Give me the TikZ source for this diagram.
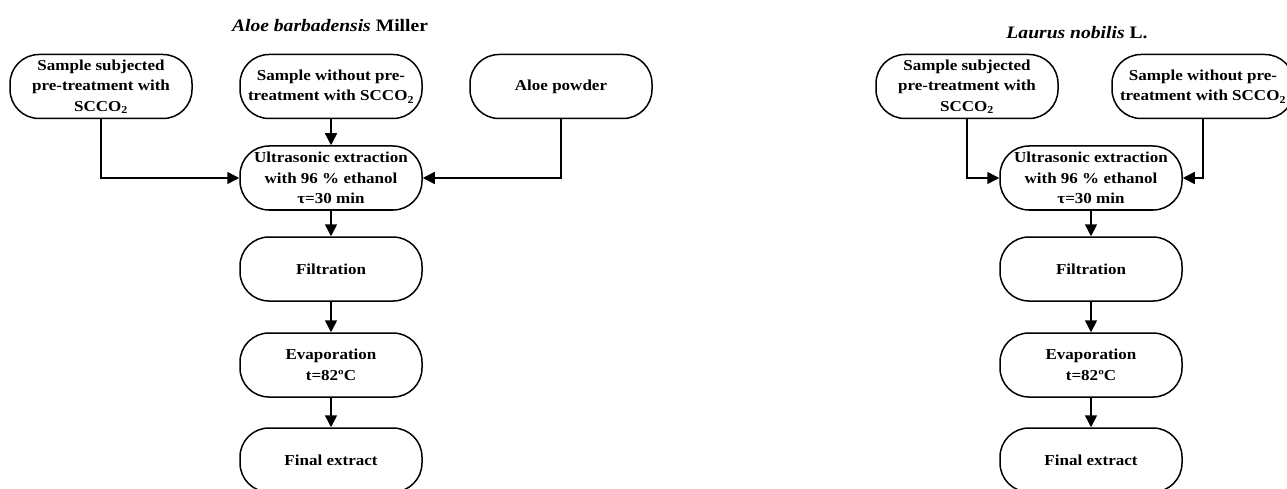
\documentclass[tikz,border=0pt]{standalone}
\usepackage{fontspec}
\setmainfont{Liberation Serif}[FakeStretch=1.12]
\usetikzlibrary{arrows.meta}
\tikzset{
  stepbox/.style={draw,line width=1.5pt,rounded corners=29pt,minimum width=182pt,
    minimum height=64pt,inner sep=0pt,align=center,
    font=\fontsize{15.2}{20.5}\selectfont\bfseries},
  flow/.style={line width=1.5pt,-{Triangle[length=12pt,width=12pt]}},
  title/.style={font=\fontsize{17.5}{20}\selectfont\bfseries}
}
\begin{document}
\begin{tikzpicture}[x=1pt,y=-1pt]
\clip (0,0) rectangle (1287,489);

% Aloe
\node[title] (tA) at (330,26) {\textit{Aloe barbadensis} Miller};
\node[stepbox] (a1) at (101,86.5) {Sample subjected\\pre-treatment with\\SCCO\textsubscript{2}};
\node[stepbox] (a2) at (331,86.5) {Sample without pre-\\treatment with SCCO\textsubscript{2}};
\node[stepbox] (a3) at (561,86.5) {Aloe powder};
\node[stepbox] (ua) at (331,178) {Ultrasonic extraction\\with 96 \% ethanol\\τ=30 min};
\node[stepbox] (fa) at (331,269) {Filtration};
\node[stepbox] (ea) at (331,365) {Evaporation\\t=82ºC};
\node[stepbox] (xa) at (331,460) {Final extract};

\draw[flow] (a1.south) |- (ua.west);
\draw[flow] (a2) -- (ua);
\draw[flow] (a3.south) |- (ua.east);
\draw[flow] (ua) -- (fa);
\draw[flow] (fa) -- (ea);
\draw[flow] (ea) -- (xa);

% Laurus
\node[title] (tL) at (1077,33) {\textit{Laurus nobilis} L.};
\node[stepbox] (l1) at (967,86.5) {Sample subjected\\pre-treatment with\\SCCO\textsubscript{2}};
\node[stepbox] (l2) at (1203,86.5) {Sample without pre-\\treatment with SCCO\textsubscript{2}};
\node[stepbox] (ul) at (1091,178) {Ultrasonic extraction\\with 96 \% ethanol\\τ=30 min};
\node[stepbox] (fl) at (1091,269) {Filtration};
\node[stepbox] (el) at (1091,365) {Evaporation\\t=82ºC};
\node[stepbox] (xl) at (1091,460) {Final extract};

\draw[flow] (l1.south) |- (ul.west);
\draw[flow] (l2.south) |- (ul.east);
\draw[flow] (ul) -- (fl);
\draw[flow] (fl) -- (el);
\draw[flow] (el) -- (xl);
\end{tikzpicture}
\end{document}
